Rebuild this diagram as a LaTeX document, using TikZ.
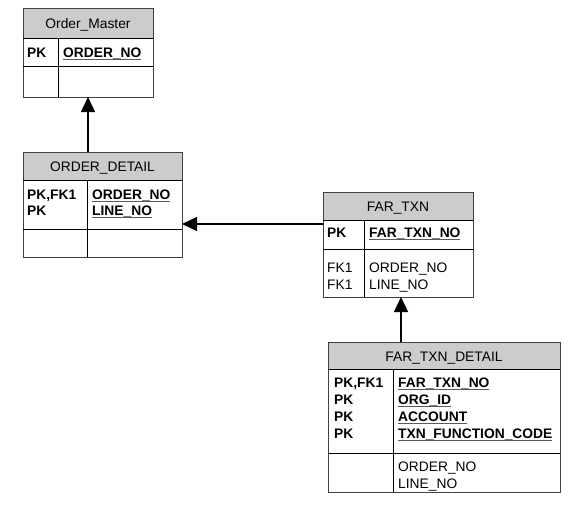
\documentclass[tikz,border=0pt]{standalone}
\usepackage{fontspec}
\setmainfont{Liberation Sans}
\usetikzlibrary{arrows.meta}
\newcommand\ulk[1]{\setbox0\hbox{#1}\rlap{\textcolor{black!65}{\rule[-2.6pt]{\wd0}{0.9pt}}}\box0}
\begin{document}
\begin{tikzpicture}[x=1pt,y=-1pt,font=\fontsize{13.8}{16}\selectfont]
\useasboundingbox (0,0) rectangle (578,514);
\tikzset{
 tbl/.style={draw=black!75, line width=1pt, anchor=north west, inner sep=0pt, outer sep=0pt},
 hdr/.style={fill=black!20},
 sepl/.style={draw=black, line width=0.9pt},
 ttl/.style={anchor=base, inner sep=0pt},
 fld/.style={anchor=base west, inner sep=0pt},
 key/.style={fld, font=\fontsize{13.8}{16}\selectfont\bfseries},
 rel/.style={line width=1.5pt, -{Triangle[length=15pt,width=14pt]}},
}
% Order_Master
\fill[hdr] (23,8) rectangle (153,38);
\node[tbl, minimum width=130pt, minimum height=89pt] (om) at (23,8) {};
\draw[sepl] (23,38) -- (153,38) (23,66) -- (153,66) (58,38) -- (58,97);
\node[ttl] (omt) at (88,28) {Order\_Master};
\node[key] (omk) at (27,57) {PK};
\node[key] (omf) at (63,57) {\ulk{ORDER\_NO}};
% ORDER_DETAIL
\fill[hdr] (23,152) rectangle (182,180);
\node[tbl, minimum width=159pt, minimum height=105pt] (od) at (23,152) {};
\draw[sepl] (23,180) -- (182,180) (23,229) -- (182,229) (87,180) -- (87,257);
\node[ttl] (odt) at (102.5,171) {ORDER\_DETAIL};
\node[key] (odk1) at (27,199) {PK,FK1};
\node[key] (odk2) at (27,215) {PK};
\node[key] (odf1) at (92,199) {\ulk{ORDER\_NO}};
\node[key] (odf2) at (92,215) {\ulk{LINE\_NO}};
% FAR_TXN
\fill[hdr] (323,192) rectangle (473,220);
\node[tbl, minimum width=150pt, minimum height=105pt] (ft) at (323,192) {};
\draw[sepl] (323,220) -- (473,220) (323,249) -- (473,249) (364,220) -- (364,297);
\node[ttl] (ftt) at (398,211) {FAR\_TXN};
\node[key] (ftk) at (327,237) {PK};
\node[key] (ftf) at (369,237) {\ulk{FAR\_TXN\_NO}};
\node[fld] (ftk2) at (327,272) {FK1};
\node[fld] (ftk3) at (327,289) {FK1};
\node[fld] (ftf2) at (369,272) {ORDER\_NO};
\node[fld] (ftf3) at (369,289) {LINE\_NO};
% FAR_TXN_DETAIL
\fill[hdr] (328,342) rectangle (560,369);
\node[tbl, minimum width=232pt, minimum height=150pt] (ftd) at (328,342) {};
\draw[sepl] (328,369) -- (560,369) (328,453) -- (560,453) (393,369) -- (393,492);
\node[ttl] (ftdt) at (444,361) {FAR\_TXN\_DETAIL};
\node[key] (dk1) at (334,387) {PK,FK1};
\node[key] (dk2) at (334,404) {PK};
\node[key] (dk3) at (334,421) {PK};
\node[key] (dk4) at (334,438) {PK};
\node[key] (df1) at (398,387) {\ulk{FAR\_TXN\_NO}};
\node[key] (df2) at (398,404) {\ulk{ORG\_ID}};
\node[key] (df3) at (398,421) {\ulk{ACCOUNT}};
\node[key] (df4) at (398,438) {\ulk{TXN\_FUNCTION\_CODE}};
\node[fld] (df5) at (398,471) {ORDER\_NO};
\node[fld] (df6) at (398,488) {LINE\_NO};
% relationships
\draw[rel] (od.north -| om.south) -- (om.south);
\coordinate (a2) at (323,224);
\draw[rel] (a2) -- (a2 -| od.east);
\coordinate (a3) at (401,342);
\draw[rel] (a3) -- (a3 |- ft.south);
\end{tikzpicture}
\end{document}
